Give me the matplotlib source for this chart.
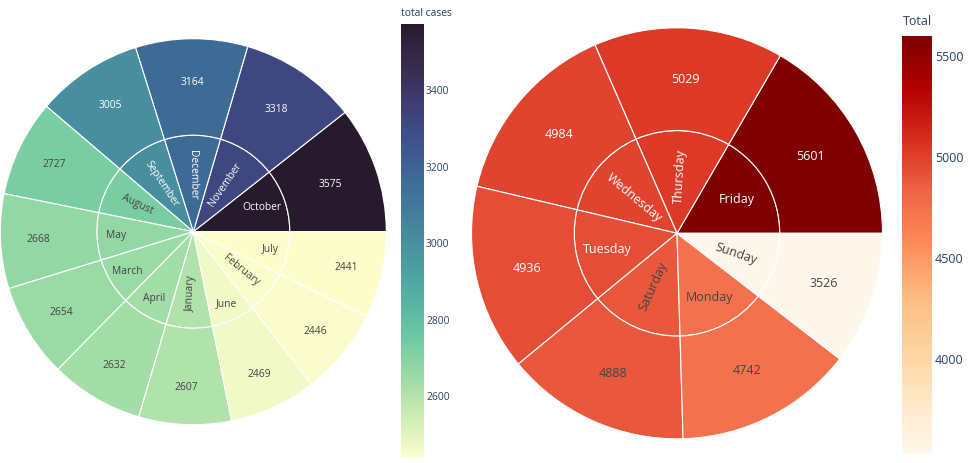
import numpy as np
import matplotlib
matplotlib.use('Agg')
import matplotlib.pyplot as plt
from matplotlib.patches import Wedge
from matplotlib.colors import LinearSegmentedColormap, Normalize
from matplotlib.cm import ScalarMappable
from matplotlib.ticker import MultipleLocator

# data
months = ['January', 'February', 'March', 'April', 'May', 'June', 'July',
          'August', 'September', 'October', 'November', 'December']
month_cases = [2607, 2446, 2654, 2632, 2668, 2469, 2441,
               2727, 3005, 3575, 3318, 3164]

days = ['Monday', 'Tuesday', 'Wednesday', 'Thursday', 'Friday', 'Saturday', 'Sunday']
day_totals = [4742, 4936, 4984, 5029, 5601, 4888, 3526]

# labels that plotly turned radially in the inner ring
radial_months = {'November', 'December', 'September', 'August', 'January', 'February'}
radial_days = {'Thursday', 'Wednesday', 'Saturday', 'Sunday'}

deep = ['#fdfdcc', '#ceecb3', '#9cdba5', '#6fc9a3', '#56b1a3', '#4c99a0',
        '#44829b', '#3e6c96', '#3e528f', '#403c73', '#362b4d', '#271a2c']
orrd = ['#fff7ec', '#fee8c8', '#fdd49e', '#fdbb84', '#fc8d59', '#ef6548',
        '#d7301f', '#b30000', '#7f0000']
cmap_deep = LinearSegmentedColormap.from_list('deep', deep)
cmap_orrd = LinearSegmentedColormap.from_list('orrd', orrd)

FONT = 'Open Sans'
TXT = '#2a3f5f'
W, H = 973, 463

fig = plt.figure(figsize=(W / 100, H / 100), dpi=100, facecolor='w')
renderer = fig.canvas.get_renderer()


def px_axes(x0, y0, x1, y1):
    return fig.add_axes([x0 / W, 1 - y1 / H, (x1 - x0) / W, (y1 - y0) / H])


def text_color(rgba):
    r, g, b = [c * 255 for c in rgba[:3]]
    return '#444444' if (r * 299 + g * 587 + b * 114) / 1000 >= 125 else 'white'


def put_label(ax, txt, r0, r1, th0, th1, fs, color, radial):
    tmp = ax.text(0, 0, txt, fontsize=fs, family=FONT)
    bb = tmp.get_window_extent(renderer)
    tmp.remove()
    w, h = bb.width, bb.height
    half = np.radians(th1 - th0) / 2
    mid = (th0 + th1) / 2
    if radial:
        rr = r1 - 6
        a = w / h
        q = a + 1 / (2 * np.tan(half))
        s = rr / (np.sqrt(q * q + 0.5) + q)
        scale = 2 * s / h
        rc = s * (1 / np.tan(half) + a)
        rot = ((mid + 90) % 180) - 90
    else:
        ring = 1 - r0 / r1
        rho = min(np.sin(half) / (1 + np.sin(half)), ring / 2)
        rc = (1 - rho) * r1
        scale = rho * r1 * 2 / np.hypot(w, h)
        rot = 0
    ax.text(rc * np.cos(np.radians(mid)), rc * np.sin(np.radians(mid)), txt,
            fontsize=fs * min(1, scale), family=FONT, color=color,
            ha='center', va='center', rotation=rot, rotation_mode='anchor')


def sunburst(ax, labels, values, cmap, norm, R, fs, radial_set):
    order = np.argsort(values, kind='stable')[::-1]
    total = float(np.sum(values))
    r1 = R / 2
    start = 0.0
    for i in order:
        sweep = values[i] / total * 360
        fc = cmap(norm(values[i]))
        tc = text_color(fc)
        ax.add_patch(Wedge((0, 0), r1, start, start + sweep, facecolor=fc,
                           edgecolor='white', linewidth=0.8))
        ax.add_patch(Wedge((0, 0), R, start, start + sweep, width=R - r1,
                           facecolor=fc, edgecolor='white', linewidth=0.8))
        put_label(ax, labels[i], 0, r1, start, start + sweep, fs, tc,
                  labels[i] in radial_set)
        put_label(ax, str(values[i]), r1, R, start, start + sweep, fs, tc, False)
        start += sweep
    ax.set_xlim(-R, R)
    ax.set_ylim(-R, R)
    ax.set_aspect('equal')
    ax.axis('off')


# left: months
R1 = 193
cx1, cy1 = 193.3, 231.7
ax1 = px_axes(cx1 - R1, cy1 - R1, cx1 + R1, cy1 + R1)
norm1 = Normalize(min(month_cases), max(month_cases))
sunburst(ax1, months, month_cases, cmap_deep, norm1, R1, 7.4, radial_months)

# right: weekdays
R2 = 205.5
cx2, cy2 = 677.0, 233.3
ax2 = px_axes(cx2 - R2, cy2 - R2, cx2 + R2, cy2 + R2)
norm2 = Normalize(min(day_totals), max(day_totals))
sunburst(ax2, days, day_totals, cmap_orrd, norm2, R2, 9, radial_days)

# colorbars
cax1 = px_axes(400.7, 23.5, 424, 457)
cb1 = fig.colorbar(ScalarMappable(norm=norm1, cmap=cmap_deep), cax=cax1)
cb1.outline.set_visible(False)
cax1.yaxis.set_major_locator(MultipleLocator(200))
cax1.tick_params(length=0, pad=1.5, labelsize=7.4, labelcolor=TXT)
fig.text(400.7 / W, 1 - 13.3 / H, 'total cases', fontsize=7.4, family=FONT,
         color=TXT, ha='left', va='center')

cax2 = px_axes(902, 36, 932, 454)
cb2 = fig.colorbar(ScalarMappable(norm=norm2, cmap=cmap_orrd), cax=cax2)
cb2.outline.set_visible(False)
cax2.yaxis.set_major_locator(MultipleLocator(500))
cax2.tick_params(length=0, pad=2, labelsize=9, labelcolor=TXT)
fig.text(903 / W, 1 - 21.7 / H, 'Total', fontsize=9, family=FONT,
         color=TXT, ha='left', va='center')

for lab in cax1.get_yticklabels() + cax2.get_yticklabels():
    lab.set_family(FONT)

plt.savefig('out.png', dpi=100, facecolor='w')
